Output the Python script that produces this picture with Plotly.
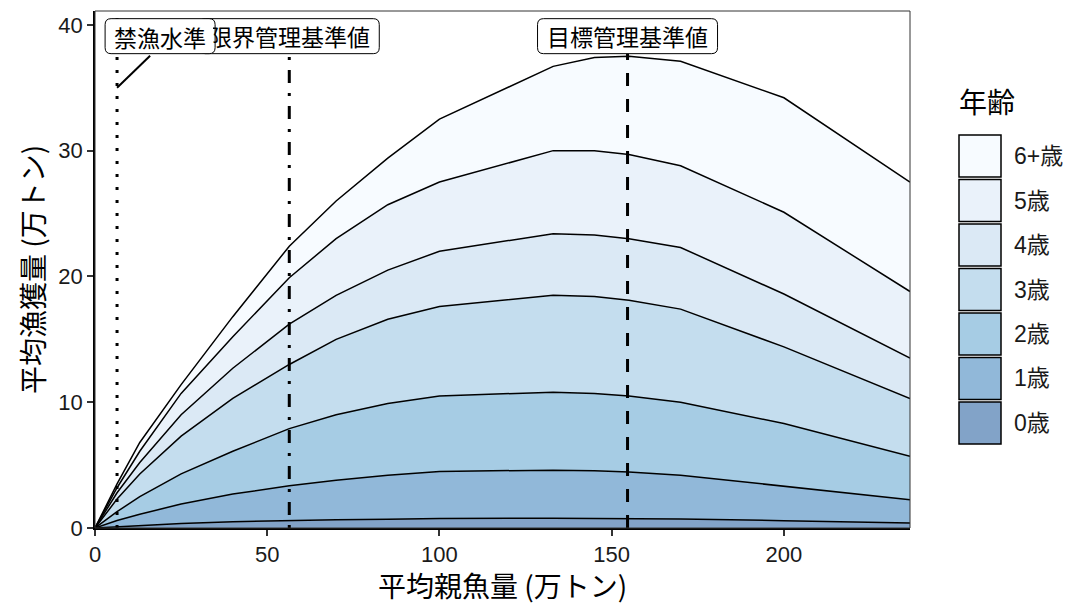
import plotly.graph_objects as go

# 平均親魚量 (万トン)
ssb = [0, 6.4, 13, 25, 40, 56.4, 70, 85, 100, 133, 145, 155, 170, 200, 236.6]

# 年齢別平均漁獲量 (万トン)
catch_age0 = [0, 0.10, 0.20, 0.35, 0.50, 0.60, 0.65, 0.70, 0.75, 0.78, 0.78, 0.76, 0.72, 0.58, 0.40]
catch_age1 = [0, 0.50, 0.90, 1.55, 2.20, 2.75, 3.15, 3.50, 3.75, 3.82, 3.77, 3.69, 3.48, 2.72, 1.85]
catch_age2 = [0, 0.70, 1.40, 2.40, 3.40, 4.55, 5.20, 5.70, 6.00, 6.20, 6.15, 6.05, 5.80, 5.00, 3.45]
catch_age3 = [0, 1.00, 1.80, 3.00, 4.20, 5.10, 6.00, 6.70, 7.10, 7.70, 7.70, 7.60, 7.40, 6.10, 4.60]
catch_age4 = [0, 0.50, 0.90, 1.70, 2.40, 3.20, 3.50, 3.90, 4.40, 4.90, 4.90, 4.90, 4.90, 4.20, 3.20]
catch_age5 = [0, 0.40, 0.90, 1.70, 2.50, 3.70, 4.50, 5.20, 5.50, 6.60, 6.70, 6.70, 6.50, 6.50, 5.30]
catch_age6 = [0, 0.30, 0.70, 0.70, 1.60, 2.50, 3.00, 3.70, 5.00, 6.70, 7.40, 7.80, 8.30, 9.10, 8.70]

age_names = ["0歳", "1歳", "2歳", "3歳", "4歳", "5歳", "6+歳"]
age_colors = ["#82A3C8", "#91B8D9", "#A6CCE4", "#C4DDEE", "#DBE9F5", "#EAF2FA", "#F7FBFF"]
catches = [catch_age0, catch_age1, catch_age2, catch_age3, catch_age4, catch_age5, catch_age6]

# 管理基準値
ref_ssb = [6.4, 56.4, 154.6]
ref_names = ["禁漁水準", "限界管理基準値", "目標管理基準値"]
ref_dash = ["3px,10px", "3px,10px,13px,10px", "13px,13px"]
label_x = [18.9, 56.4, 154.6]
label_y = 39.1
leader_from_y = 35.0

x_ticks = [0, 50, 100, 150, 200]
y_ticks = [0, 10, 20, 30, 40]

JP = "Noto Sans CJK JP"
NUM = "Liberation Sans, Noto Sans CJK JP"

W, H = 1075, 605
ML, MR, MT, MB = 95, 165, 11, 77
plot_w = W - ML - MR
plot_h = H - MT - MB


def px_to_paper_x(px):
    return (px - ML) / plot_w


def px_to_paper_y(py):
    return (H - MB - py) / plot_h


fig = go.Figure()

for name, vals, col in zip(age_names, catches, age_colors):
    fig.add_trace(go.Scatter(
        x=ssb, y=vals, name=name, stackgroup="catch", mode="lines",
        line=dict(color="black", width=1.5),
        fillcolor=col, showlegend=False,
    ))

shapes = []
# reference lines
for xv, dash in zip(ref_ssb, ref_dash):
    shapes.append(dict(type="line", xref="x", yref="paper", x0=xv, x1=xv, y0=0, y1=1,
                       line=dict(color="black", width=3, dash=dash), layer="above"))

# leader for the repelled label
shapes.append(dict(type="line", xref="x", yref="y", x0=ref_ssb[0], y0=leader_from_y,
                   x1=16.0, y1=37.55, line=dict(color="black", width=2), layer="above"))


def rounded_box(hw, hh, r):
    return (f"M {-hw + r},{-hh} L {hw - r},{-hh} Q {hw},{-hh} {hw},{-hh + r} "
            f"L {hw},{hh - r} Q {hw},{hh} {hw - r},{hh} L {-hw + r},{hh} "
            f"Q {-hw},{hh} {-hw},{hh - r} L {-hw},{-hh + r} Q {-hw},{-hh} {-hw + r},{-hh} Z")


half_w = [55, 90, 90]
# label boxes: the middle one first so the others sit on top of it
for i in [1, 2, 0]:
    shapes.append(dict(type="path", xref="x", yref="y", xsizemode="pixel", ysizemode="pixel",
                       xanchor=label_x[i], yanchor=label_y,
                       path=rounded_box(half_w[i], 17.5, 6),
                       fillcolor="white", line=dict(color="black", width=1), layer="above"))

# panel border
shapes.append(dict(type="rect", xref="paper", yref="paper", x0=0, x1=1, y0=0, y1=1,
                   line=dict(color="#333333", width=1), layer="above"))

annotations = []
for i in [1, 2]:
    annotations.append(dict(x=label_x[i], y=label_y, xref="x", yref="y", text=ref_names[i],
                            showarrow=False, font=dict(family=JP, size=23, color="black")))
annotations.append(dict(x=label_x[0], y=label_y, xref="x", yref="y", text=ref_names[0],
                        showarrow=False, font=dict(family=JP, size=23, color="black"),
                        bgcolor="white", width=106, height=31, borderpad=0, borderwidth=0))

# legend drawn as boxes
key_left, key_right = 959, 1001
key_top0, key_pitch, key_size = 135, 44.5, 42
annotations.append(dict(x=px_to_paper_x(957), y=px_to_paper_y(101), xref="paper", yref="paper",
                        text="年齢", showarrow=False, xanchor="left", yanchor="middle",
                        font=dict(family=JP, size=28, color="black")))
for k, (name, col) in enumerate(zip(age_names[::-1], age_colors[::-1])):
    top = key_top0 + k * key_pitch
    shapes.append(dict(type="rect", xref="paper", yref="paper",
                       x0=px_to_paper_x(key_left), x1=px_to_paper_x(key_right),
                       y0=px_to_paper_y(top + key_size), y1=px_to_paper_y(top),
                       fillcolor=col, line=dict(color="black", width=1.5)))
    annotations.append(dict(x=px_to_paper_x(1012), y=px_to_paper_y(top + key_size / 2),
                            xref="paper", yref="paper", text=name, showarrow=False,
                            xanchor="left", yanchor="middle",
                            font=dict(family=NUM, size=23, color="#1a1a1a")))

axis_common = dict(showgrid=False, zeroline=False, showline=True, linecolor="black", linewidth=1.5,
                   ticks="outside", ticklen=6, tickwidth=1.5, tickcolor="#333333",
                   tickfont=dict(family=NUM, size=22, color="#1a1a1a"))

fig.update_layout(
    width=W, height=H,
    margin=dict(l=ML, r=MR, t=MT, b=MB),
    paper_bgcolor="white", plot_bgcolor="white",
    xaxis=dict(range=[0, 236.6], tickvals=x_ticks,
               title=dict(text="平均親魚量 (万トン)", font=dict(family=JP, size=28, color="black"),
                          standoff=3),
               **axis_common),
    yaxis=dict(range=[0, 41.1], tickvals=y_ticks,
               title=dict(text="平均漁獲量 (万トン)", font=dict(family=JP, size=28, color="black"),
                          standoff=6),
               **axis_common),
    shapes=shapes,
    annotations=annotations,
    showlegend=False,
)

fig.write_html("out.html")
